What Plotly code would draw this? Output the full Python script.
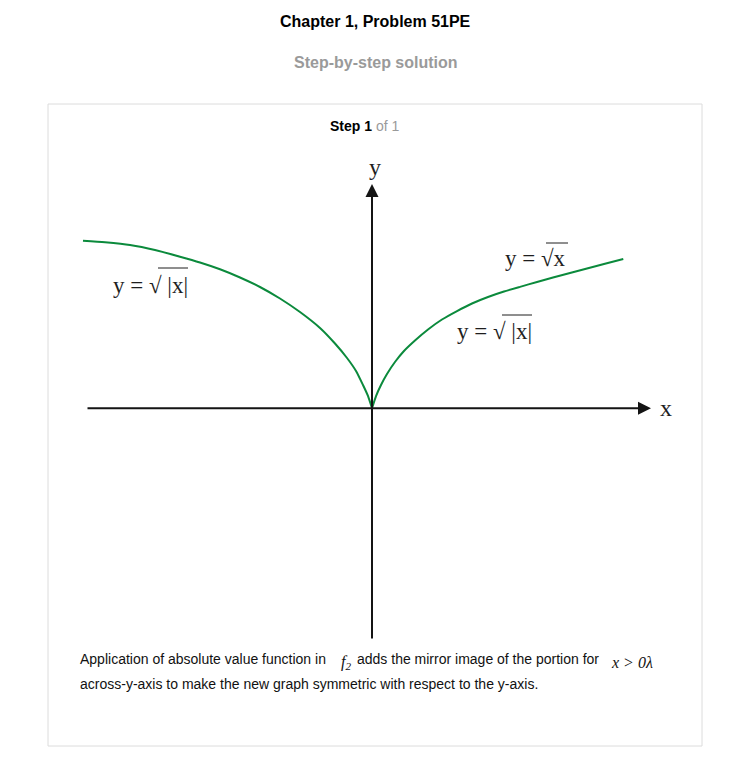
import plotly.graph_objects as go

# ---- data (in drawing units) ----
left_x = [-4.014, -3.708, -3.361, -3.014, -2.667, -2.389, -2.111, -1.833, -1.556, -1.278,
          -1.0, -0.722, -0.514, -0.347, -0.222, -0.125, -0.056, 0.0]
left_y = [1.995, 1.976, 1.944, 1.885, 1.805, 1.736, 1.655, 1.557, 1.444, 1.307,
          1.146, 0.956, 0.771, 0.599, 0.444, 0.277, 0.147, 0.0]
right_x = [0.0, 0.056, 0.125, 0.208, 0.319, 0.444, 0.597, 0.778, 0.972, 1.181,
           1.389, 1.611, 1.833, 2.056, 2.292, 2.514, 2.75, 2.986, 3.222, 3.49]
right_y = [0.0, 0.146, 0.277, 0.408, 0.551, 0.682, 0.807, 0.938, 1.057, 1.158,
           1.248, 1.325, 1.390, 1.446, 1.504, 1.557, 1.611, 1.664, 1.718, 1.777]

title_text = "Chapter 1, Problem 51PE"
subtitle_text = "Step-by-step solution"
step_text = "<b>Step 1</b> <span style='color:#9a9a9a'>of 1</span>"
curve_label = "y = √ |x|"
curve_label_right = "y = √x"
expl_1a = "Application of absolute value function in"
expl_1b = "f<sub>2</sub>"
expl_1c = "adds the mirror image of the portion for"
expl_1d = "x > 0λ"
expl_2 = "across-y-axis to make the new graph symmetric with respect to the y-axis."

OFF = 8                  # page body margin
W, H = 752 - OFF, 773 - OFF
OX, OY = 372, 408.3      # page pixel position of origin
SX, SY = 72.0, 84.0      # pixels per unit

def px(p):  # page pixel x -> data x
    return (p - OX) / SX

def py(p):  # page pixel y -> data y
    return (OY - p) / SY

def P(xp, yp):  # page pixel -> paper
    return (xp - OFF) / W, 1 - (yp - OFF) / H

GREEN = "#0b8a3c"
SERIF = "Liberation Serif, Times New Roman, serif"
SANS = "Liberation Sans, Arial, sans-serif"
INK = "#1e1e1e"

fig = go.Figure()
for xs, ys in [(left_x, left_y), (right_x, right_y)]:
    fig.add_trace(go.Scatter(x=xs, y=ys, mode="lines",
                             line=dict(color=GREEN, width=2, shape="spline", smoothing=0.6),
                             hoverinfo="skip", showlegend=False))

ann = []
# axes arrows
ann.append(dict(x=px(651), y=0, ax=px(86), ay=0, xref="x", yref="y", axref="x", ayref="y",
                text="", showarrow=True, arrowhead=2, arrowsize=1.3, arrowwidth=2,
                arrowcolor="#141414", standoff=0, startstandoff=0))
ann.append(dict(x=0, y=py(184), ax=0, ay=py(640), xref="x", yref="y", axref="x", ayref="y",
                text="", showarrow=True, arrowhead=2, arrowsize=1.3, arrowwidth=2,
                arrowcolor="#141414", standoff=0, startstandoff=0))
# axis letters
ann.append(dict(x=px(666), y=py(408), xref="x", yref="y", text="x", showarrow=False,
                font=dict(family=SERIF, size=24, color=INK)))
ann.append(dict(x=px(375), y=py(167), xref="x", yref="y", text="y", showarrow=False,
                font=dict(family=SERIF, size=24, color=INK)))
# curve labels
ann.append(dict(x=px(111), y=py(285), xref="x", yref="y", text=curve_label, showarrow=False,
                xanchor="left", font=dict(family=SERIF, size=23, color=INK)))
ann.append(dict(x=px(455), y=py(331), xref="x", yref="y", text=curve_label, showarrow=False,
                xanchor="left", font=dict(family=SERIF, size=23, color=INK)))
ann.append(dict(x=px(503), y=py(258), xref="x", yref="y", text=curve_label_right, showarrow=False,
                xanchor="left", font=dict(family=SERIF, size=23, color=INK)))

# page text
for txt, xpix, ypix, fnt, anchor in [
    ("<b>" + title_text + "</b>", 375, 21, dict(family=SANS, size=16, color="#000"), "center"),
    ("<b>" + subtitle_text + "</b>", 376, 63, dict(family=SANS, size=16, color="#9a9a9a"), "center"),
    (step_text, 364, 126, dict(family=SANS, size=14, color="#000"), "center"),
    (expl_1a, 78, 659, dict(family=SANS, size=14, color="#111"), "left"),
    ("<i>" + expl_1b + "</i>", 339, 662, dict(family=SERIF, size=16, color="#111"), "left"),
    (expl_1c, 355, 659, dict(family=SANS, size=14, color="#111"), "left"),
    ("<i>" + expl_1d + "</i>", 609, 662, dict(family=SERIF, size=16, color="#111"), "left"),
    (expl_2, 78, 684, dict(family=SANS, size=14, color="#111"), "left"),
]:
    xx, yy = P(xpix, ypix)
    ann.append(dict(x=xx, y=yy, xref="paper", yref="paper", text=txt, showarrow=False,
                    xanchor=anchor, yanchor="middle", font=fnt))

shapes = []
x0, y1 = P(48, 104)
x1, y0 = P(702, 746)
shapes.append(dict(type="rect", xref="paper", yref="paper", x0=x0, x1=x1, y0=y0, y1=y1,
                   line=dict(color="#dcdcdc", width=1), fillcolor="rgba(0,0,0,0)", layer="below"))
# radical vinculum bars over the labels
for a, b, yy in [(158, 188, 268), (502, 532, 315), (546, 568, 243)]:
    xa, ya = P(a, yy)
    xb, _ = P(b, yy)
    shapes.append(dict(type="line", xref="paper", yref="paper", x0=xa, x1=xb, y0=ya, y1=ya,
                       line=dict(color=INK, width=1)))

fig.update_layout(
    width=W, height=H, margin=dict(l=0, r=0, t=0, b=0),
    paper_bgcolor="white", plot_bgcolor="white",
    xaxis=dict(range=[px(OFF), px(OFF + W)], visible=False, fixedrange=True),
    yaxis=dict(range=[py(OFF + H), py(OFF)], visible=False, fixedrange=True),
    annotations=ann, shapes=shapes, showlegend=False,
)

fig.write_html("out.html", config=dict(displayModeBar=False, staticPlot=True))
